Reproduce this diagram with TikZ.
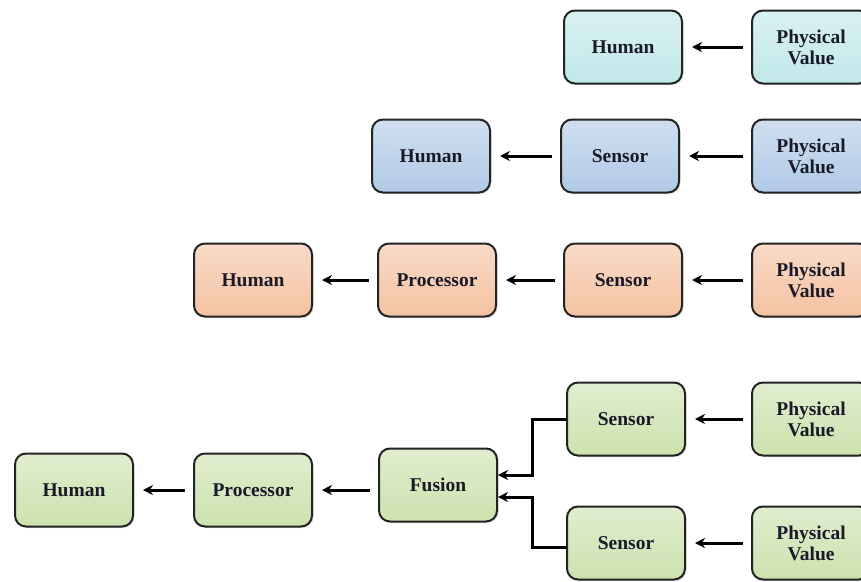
\documentclass[tikz,border=0pt]{standalone}
\usepackage{fontspec}
\setmainfont{Liberation Serif}
\usetikzlibrary{arrows.meta,shadows}
\definecolor{cyanbox}{RGB}{192,232,234}
\definecolor{bluebox}{RGB}{176,202,230}
\definecolor{peachbox}{RGB}{244,194,162}
\definecolor{greenbox}{RGB}{204,226,174}
\definecolor{edgecol}{RGB}{35,35,35}
\tikzset{
  blk/.style={draw=edgecol, line width=2pt, rounded corners=11pt,
    minimum width=118pt, minimum height=73pt, align=center,
    font=\fontsize{19.5}{21}\selectfont\bfseries, text={rgb,255:red,25;green,25;blue,40},
    drop shadow={shadow xshift=1.5pt, shadow yshift=-1.5pt, opacity=0.25}},
  cyanblk/.style={blk, top color=cyanbox!60!white, bottom color=cyanbox},
  blueblk/.style={blk, top color=bluebox!60!white, bottom color=bluebox},
  peachblk/.style={blk, top color=peachbox!60!white, bottom color=peachbox},
  greenblk/.style={blk, top color=greenbox!60!white, bottom color=greenbox},
  arr/.style={line width=3pt, -{Stealth[length=10pt,width=10pt]}, shorten <=8pt, shorten >=9pt},
  farr/.style={line width=3pt, -{Stealth[length=10pt,width=10pt]}, rounded corners=0pt}
}
\begin{document}
\begin{tikzpicture}[x=1pt,y=-1pt]
\clip (0,0) rectangle (861,581);
\fill[white] (0,0) rectangle (861,581);
% row 1
\node[cyanblk] (h1) at (623,47) {Human};
\node[cyanblk] (p1) at (811,47) {Physical\\Value};
\draw[arr] (p1) -- (h1);
% row 2
\node[blueblk] (h2) at (431,156) {Human};
\node[blueblk] (s2) at (620,156) {Sensor};
\node[blueblk] (p2) at (811,156) {Physical\\Value};
\draw[arr] (p2) -- (s2);
\draw[arr] (s2) -- (h2);
% row 3
\node[peachblk] (h3) at (253,280) {Human};
\node[peachblk] (r3) at (437,280) {Processor};
\node[peachblk] (s3) at (623,280) {Sensor};
\node[peachblk] (p3) at (811,280) {Physical\\Value};
\draw[arr] (p3) -- (s3);
\draw[arr] (s3) -- (r3);
\draw[arr] (r3) -- (h3);
% row 4
\node[greenblk] (h4) at (74,490) {Human};
\node[greenblk] (r4) at (253,490) {Processor};
\node[greenblk] (f4) at (438,485) {Fusion};
\node[greenblk] (sa) at (626,419) {Sensor};
\node[greenblk] (pa) at (811,419) {Physical\\Value};
\node[greenblk] (sb) at (626,543) {Sensor};
\node[greenblk] (pb) at (811,543) {Physical\\Value};
\draw[arr] (pa) -- (sa);
\draw[arr] (pb) -- (sb);
\draw[arr] ([yshift=-5pt]f4.west) -- (r4.east);
\draw[arr] (r4) -- (h4);
\coordinate (ka) at (532,419);
\coordinate (kb) at (532,547);
\draw[farr] (sa.west) -- (ka) |- ([yshift=10pt]f4.east);
\draw[farr] ([yshift=-4pt]sb.west) -- (kb) |- ([yshift=-12pt]f4.east);
\end{tikzpicture}
\end{document}
